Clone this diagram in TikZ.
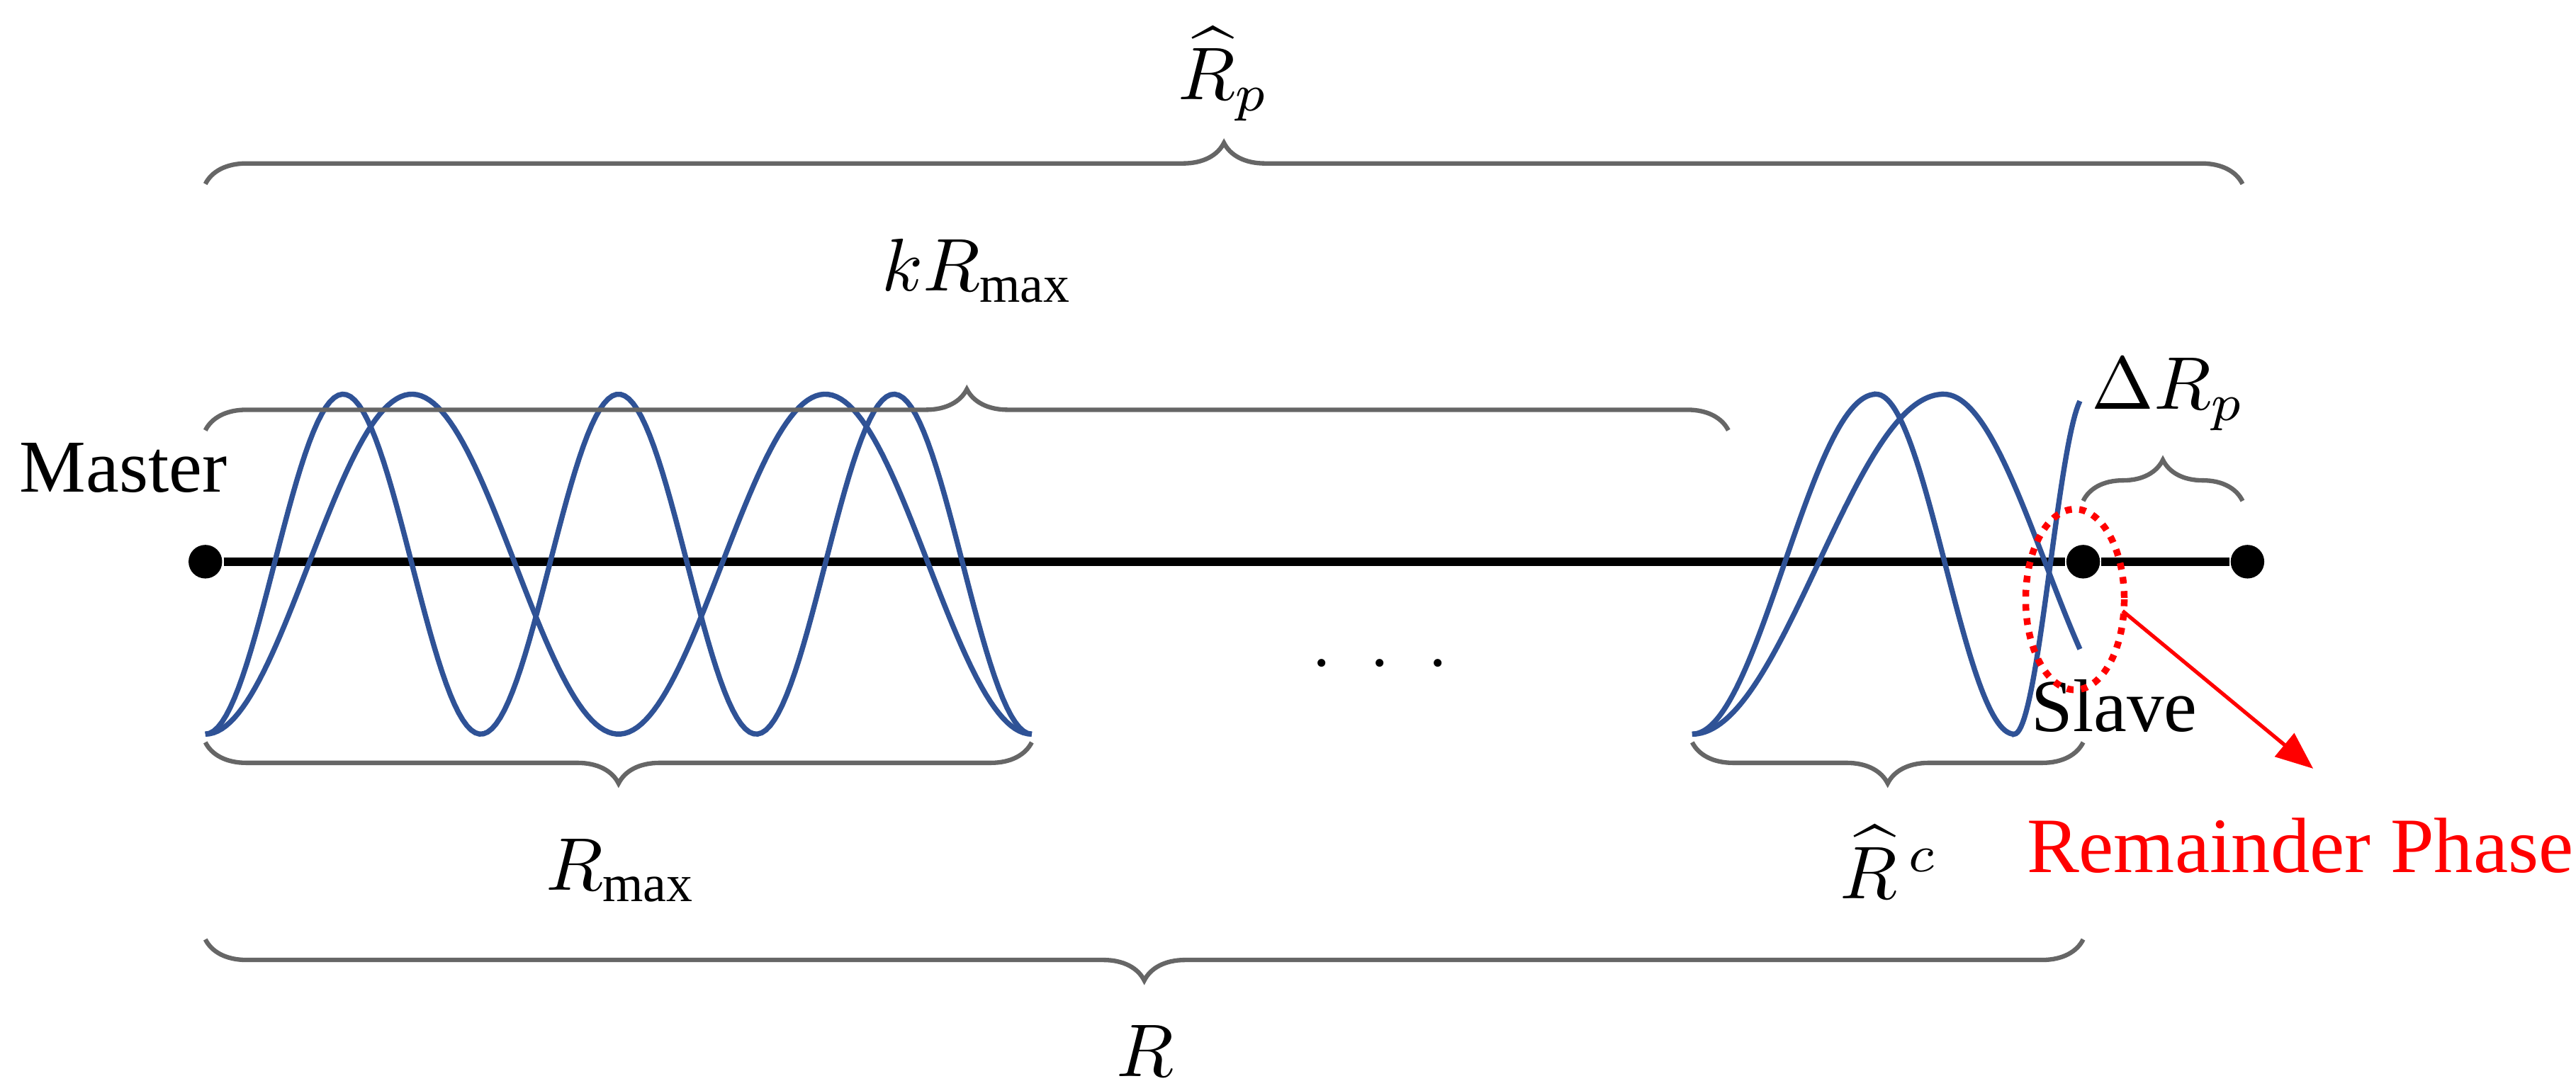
\documentclass[tikz,border=0pt]{standalone}
\usepackage{fontspec}
\setmainfont{Liberation Serif}
\usetikzlibrary{decorations.pathreplacing,arrows.meta}
\begin{document}
\begin{tikzpicture}[x=0.22pt,y=-0.22pt,
  wave/.style={draw={rgb,255:red,47;green,82;blue,150},line width=0.7pt},
  brc/.style={draw=black!60,line width=0.6pt,decorate,decoration={brace,amplitude=5.5pt}},
  lbl/.style={font=\fontsize{10}{12}\selectfont},
  dot/.style={circle,fill=black,inner sep=0pt,minimum size=4.5pt}]
\useasboundingbox (0,0) rectangle (1568,661);
% main line
\node[dot] (m) at (125,342) {};
\node[dot] (s) at (1268,342) {};
\node[dot] (e) at (1368,342) {};
\draw[line width=1.1pt] (m) -- (s) -- (e);
% group 1 waves
\draw[wave] plot[domain=125:628,samples=200] (\x,{343.5+103.5*cos((\x-125)*2.1471)});
\draw[wave] plot[domain=125:628,samples=200] (\x,{343.5+103.5*cos((\x-125)*1.4314)});
% group 2 waves
\draw[wave] plot[domain=1030:1142,samples=60] (\x,{343.5+103.5*cos((\x-1030)*1.6071)})
  -- plot[domain=1142:1226,samples=60] (\x,{343.5-103.5*cos((\x-1142)*2.1429)})
  -- plot[domain=1226:1266,samples=40] (\x,{343.5+103.5*cos((\x-1226)*4.0909)});
\draw[wave] plot[domain=1030:1183,samples=80] (\x,{343.5+103.5*cos((\x-1030)*1.1765)})
  -- plot[domain=1183:1266,samples=60] (\x,{343.5-103.5*cos((\x-1183)*1.4458)});
% braces
\coordinate (t1) at (125,112); \coordinate (t2) at (1365,112);
\draw[brc] (t1) -- (t2);
\node[lbl] (rp) at (745,45) {$\widehat{R}_p$};
\coordinate (k1) at (125,262); \coordinate (k2) at (1052,262);
\draw[brc] (k1) -- (k2);
\node[lbl] (kr) at (595,165) {$kR_{\max}$};
\coordinate (d1) at (1268,305); \coordinate (d2) at (1365,305);
\draw[brc] (d1) -- (d2);
\node[lbl] (dr) at (1320,240) {$\Delta R_p$};
\coordinate (b1) at (628,452); \coordinate (b2) at (125,452);
\draw[brc] (b1) -- (b2);
\node[lbl] (rm) at (378,530) {$R_{\max}$};
\coordinate (c1) at (1268,452); \coordinate (c2) at (1030,452);
\draw[brc] (c1) -- (c2);
\node[lbl] (rc) at (1150,525) {$\widehat{R}^{\,c}$};
\coordinate (r1) at (1268,572); \coordinate (r2) at (125,572);
\draw[brc] (r1) -- (r2);
\node[lbl] (rr) at (697,640) {$R$};
% labels
\node[lbl] (ma) at (75,285) {Master};
\node[lbl] (sl) at (1287,430) {Slave};
\node[lbl] (dots) at (840,405) {$\cdot\;\cdot\;\cdot$};
% remainder
\draw[red,densely dotted,line width=0.9pt] (1263,365) ellipse [x radius=30, y radius=55];
\coordinate (a1) at (1292,372);
\coordinate (a2) at (1408,468);
\draw[red,line width=0.5pt,-{Triangle[length=5pt,width=4pt]}] (a1) -- (a2);
\node[red,font=\fontsize{10.5}{13}\selectfont] (rem) at (1400,515) {Remainder Phase};
\end{tikzpicture}
\end{document}
